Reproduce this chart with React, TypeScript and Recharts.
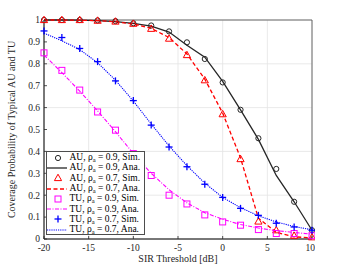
import React from 'react'
import { LineChart, Line, XAxis, YAxis, CartesianGrid, ReferenceArea } from 'recharts'

const sir = [-20, -18, -16, -14, -12, -10, -8, -6, -4, -2, 0, 2, 4, 6, 8, 10]
const auSim09 = [1.0, 1.0, 1.0, 0.998, 0.995, 0.985, 0.975, 0.948, 0.898, 0.822, 0.715, 0.59, 0.46, 0.32, 0.17, 0.04]
const auAna09 = [1.0, 1.0, 0.999, 0.997, 0.993, 0.985, 0.972, 0.945, 0.885, 0.83, 0.72, 0.59, 0.455, 0.29, 0.17, 0.04]
const auSim07 = [1.0, 1.0, 1.0, 0.997, 0.993, 0.983, 0.96, 0.915, 0.84, 0.725, 0.57, 0.365, 0.08, 0.04, 0.015, 0.008]
const auAna07 = [1.0, 1.0, 0.999, 0.997, 0.992, 0.982, 0.962, 0.92, 0.845, 0.73, 0.575, 0.37, 0.095, 0.03, 0.01, 0.005]
const tuSim09 = [0.85, 0.77, 0.68, 0.58, 0.497, 0.39, 0.29, 0.2, 0.16, 0.11, 0.078, 0.063, 0.043, 0.025, 0.025, 0.015]
const tuAna09 = [0.84, 0.76, 0.675, 0.585, 0.49, 0.39, 0.3, 0.225, 0.165, 0.12, 0.09, 0.066, 0.05, 0.038, 0.03, 0.022]
const tuSim07 = [0.95, 0.92, 0.87, 0.81, 0.722, 0.632, 0.52, 0.42, 0.33, 0.25, 0.19, 0.14, 0.108, 0.072, 0.055, 0.04]
const tuAna07 = [0.94, 0.905, 0.865, 0.805, 0.725, 0.63, 0.525, 0.425, 0.335, 0.255, 0.19, 0.143, 0.106, 0.078, 0.057, 0.042]

const xTicks = [-20, -15, -10, -5, 0, 5, 10]
const yTicks = [0, 0.1, 0.2, 0.3, 0.4, 0.5, 0.6, 0.7, 0.8, 0.9, 1]

const data = sir.map((x, i) => ({
  x,
  auSim09: auSim09[i], auAna09: auAna09[i],
  auSim07: auSim07[i], auAna07: auAna07[i],
  tuSim09: tuSim09[i], tuAna09: tuAna09[i],
  tuSim07: tuSim07[i], tuAna07: tuAna07[i],
}))

const BLACK = '#262626'
const RED = '#ff0000'
const MAGENTA = '#ff00ff'
const BLUE = '#0000ff'
const FONT = '"Liberation Serif", "Times New Roman", serif'

type MarkerKind = 'circle' | 'triangle' | 'square' | 'plus'

function Marker({ kind, cx, cy, color }: { kind: MarkerKind; cx: number; cy: number; color: string }) {
  if (kind === 'circle') return <circle cx={cx} cy={cy} r={2.6} fill="none" stroke={color} strokeWidth={1} />
  if (kind === 'triangle')
    return <polygon points={`${cx},${cy - 3.8} ${cx - 3.6},${cy + 2.6} ${cx + 3.6},${cy + 2.6}`} fill="none" stroke={color} strokeWidth={1} />
  if (kind === 'square') return <rect x={cx - 3} y={cy - 3} width={6} height={6} fill="none" stroke={color} strokeWidth={1} />
  return (
    <g stroke={color} strokeWidth={1.3}>
      <line x1={cx - 3.5} y1={cy} x2={cx + 3.5} y2={cy} />
      <line x1={cx} y1={cy - 3.5} x2={cx} y2={cy + 3.5} />
    </g>
  )
}

const dotFor = (kind: MarkerKind, color: string) => (p: any) => (
  <Marker key={p.index} kind={kind} cx={p.cx} cy={p.cy} color={color} />
)

const legendRows = [
  { region: 'AU', rho: '0.9', type: 'Sim.', color: BLACK, marker: 'circle' as MarkerKind },
  { region: 'AU', rho: '0.9', type: 'Ana.', color: BLACK, dash: undefined, width: 1.3 },
  { region: 'AU', rho: '0.7', type: 'Sim.', color: RED, marker: 'triangle' as MarkerKind },
  { region: 'AU', rho: '0.7', type: 'Ana.', color: RED, dash: '4 2.5', width: 1.3 },
  { region: 'TU', rho: '0.9', type: 'Sim.', color: MAGENTA, marker: 'square' as MarkerKind },
  { region: 'TU', rho: '0.9', type: 'Ana.', color: MAGENTA, dash: '4 1.5 1 1.5', width: 1.1 },
  { region: 'TU', rho: '0.7', type: 'Sim.', color: BLUE, marker: 'plus' as MarkerKind },
  { region: 'TU', rho: '0.7', type: 'Ana.', color: BLUE, dash: '1.2 1', width: 1.1 },
]

function ChartLegend() {
  return (
    <div
      style={{
        position: 'absolute', left: 46, top: 151, width: 99, height: 84,
        border: '1px solid #4d4d4d', background: '#fff', fontFamily: FONT,
        fontSize: 9.5, color: '#000', boxSizing: 'border-box', paddingTop: 0.5,
      }}
    >
      {legendRows.map((r, i) => (
        <div key={i} style={{ height: 10.3, display: 'flex', alignItems: 'center', whiteSpace: 'nowrap' }}>
          <svg width={21} height={10} style={{ flex: 'none' }}>
            {r.marker ? (
              <Marker kind={r.marker} cx={11} cy={5} color={r.color} />
            ) : (
              <line x1={0} y1={5} x2={20} y2={5} stroke={r.color} strokeWidth={r.width} strokeDasharray={r.dash} />
            )}
          </svg>
          <span style={{ marginLeft: 1.5, lineHeight: '10px' }}>
            {r.region}, ρ<span style={{ fontSize: 6.5, position: 'relative', top: 2 }}>a</span> = {r.rho}, {r.type}
          </span>
        </div>
      ))}
    </div>
  )
}

export default function App() {
  return (
    <div style={{ position: 'absolute', left: 0, top: 0, width: 345, height: 268, background: '#fff' }}>
      <LineChart width={315} height={268} data={data} margin={{ top: 20, right: 3, bottom: 0, left: 0 }}>
        <CartesianGrid stroke="#e3e3e3" strokeWidth={0.8} />
        <XAxis
          dataKey="x" type="number" domain={[-20, 10]} ticks={xTicks} height={29}
          tickSize={-3} tickMargin={8} axisLine={{ stroke: BLACK, strokeWidth: 0.8 }}
          tickLine={{ stroke: BLACK, strokeWidth: 0.8 }}
          tick={{ fill: BLACK, fontSize: 9.5, fontFamily: FONT }}
          label={{ value: 'SIR Threshold [dB]', position: 'insideBottom', offset: 6, fill: BLACK, fontSize: 10, fontFamily: FONT }}
        />
        <YAxis
          type="number" domain={[0, 1]} ticks={yTicks} width={44}
          tickSize={-3} tickMargin={7} axisLine={{ stroke: BLACK, strokeWidth: 0.8 }}
          tickLine={{ stroke: BLACK, strokeWidth: 0.8 }}
          tick={{ fill: BLACK, fontSize: 9.5, fontFamily: FONT }}
          label={{
            value: 'Coverage Probability of Typical AU and TU', angle: -90, position: 'insideLeft', offset: 11,
            fill: BLACK, fontSize: 10, fontFamily: FONT, style: { textAnchor: 'middle' },
          }}
        />
        <ReferenceArea x1={-20} x2={10} y1={0} y2={1} fill="none" stroke="#5a5a5a" strokeWidth={0.9} ifOverflow="visible" />

        <Line dataKey="auAna09" stroke={BLACK} strokeWidth={1.3} dot={false} type="linear" isAnimationActive={false} />
        <Line dataKey="auSim09" stroke="none" dot={dotFor('circle', BLACK)} isAnimationActive={false} />
        <Line dataKey="auAna07" stroke={RED} strokeWidth={1.3} strokeDasharray="4 2.5" dot={false} type="linear" isAnimationActive={false} />
        <Line dataKey="auSim07" stroke="none" dot={dotFor('triangle', RED)} isAnimationActive={false} />
        <Line dataKey="tuAna09" stroke={MAGENTA} strokeWidth={1.1} strokeDasharray="4 1.5 1 1.5" dot={false} type="linear" isAnimationActive={false} />
        <Line dataKey="tuSim09" stroke="none" dot={dotFor('square', MAGENTA)} isAnimationActive={false} />
        <Line dataKey="tuAna07" stroke={BLUE} strokeWidth={1.1} strokeDasharray="1.2 1" dot={false} type="linear" isAnimationActive={false} />
        <Line dataKey="tuSim07" stroke="none" dot={dotFor('plus', BLUE)} isAnimationActive={false} />
      </LineChart>
      <ChartLegend />
    </div>
  )
}
